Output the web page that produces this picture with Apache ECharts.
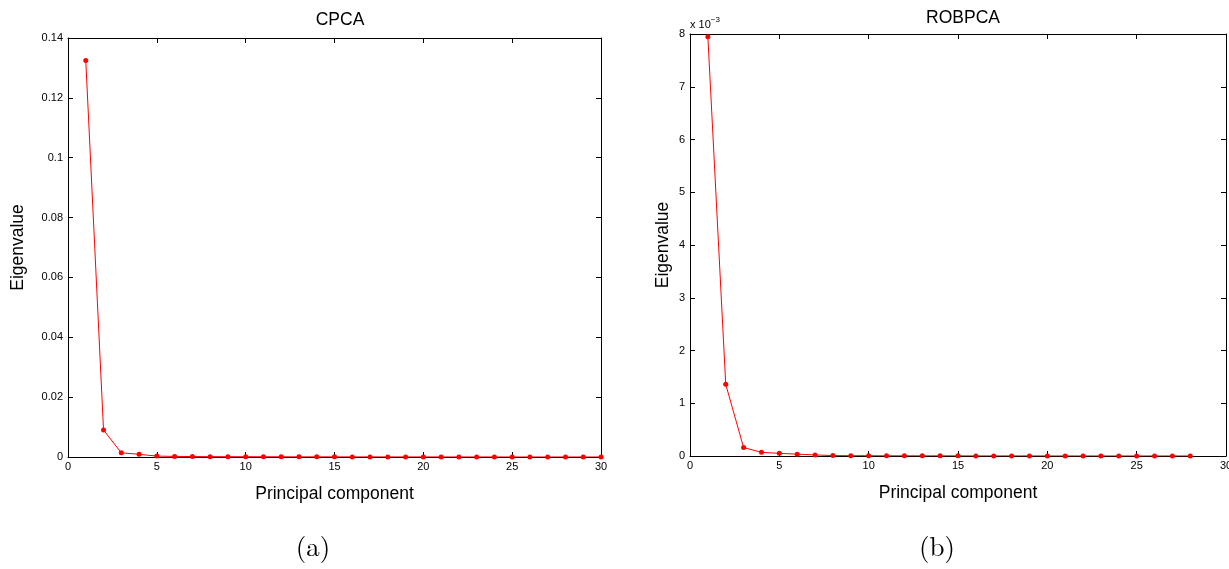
<!DOCTYPE html>
<html>
<head>
<meta charset="utf-8">
<script src="https://cdn.jsdelivr.net/npm/echarts@6/dist/echarts.min.js"></script>
<style>
  html, body { margin: 0; padding: 0; background: #fff; }
  #chart { width: 1229px; height: 569px; }
</style>
</head>
<body>
<div id="chart"></div>
<script>
// Principal component indices
const cpcaComponents = Array.from({ length: 30 }, (_, i) => i + 1);
const robpcaComponents = Array.from({ length: 28 }, (_, i) => i + 1);

// Eigenvalues from classical PCA
const cpcaEigen = [0.1325, 0.0090, 0.0014, 0.0009, 0.0003, 0.0002, 0.00015, 0.00012,
  0.0001, 0.00009, 0.00008, 0.00007, 0.00006, 0.00005, 0.00005, 0.00004, 0.00004,
  0.00003, 0.00003, 0.00003, 0.00002, 0.00002, 0.00002, 0.00002, 0.00001, 0.00001,
  0.00001, 0.00001, 0.00001, 0.00001];

// Eigenvalues from robust PCA (in units of 1e-3)
const robpcaEigenE3 = [7.95, 1.36, 0.16, 0.07, 0.05, 0.035, 0.02, 0.008, 0.006, 0.005,
  0.004, 0.004, 0.003, 0.003, 0.003, 0.002, 0.002, 0.002, 0.002, 0.001, 0.001, 0.001,
  0.001, 0.001, 0.001, 0.001, 0.001, 0.001];

const xTicks = [0, 5, 10, 15, 20, 25, 30];

const font = 'Liberation Sans, Arial, Helvetica, sans-serif';
const serif = 'Latin Modern Roman, DejaVu Serif, Liberation Serif, serif';
const black = '#000';
const red = '#ff0000';

function boxAxis(gridIndex, position, showLabels, extra) {
  return Object.assign({
    type: 'value',
    gridIndex: gridIndex,
    position: position,
    axisLine: { show: true, onZero: false, lineStyle: { color: black, width: 1 } },
    axisTick: { show: true, inside: true, length: 5, lineStyle: { color: black } },
    axisLabel: { show: showLabels, color: black, fontSize: 11, fontFamily: font, margin: 5 },
    splitLine: { show: false }
  }, extra);
}

const nameStyle = { fontSize: 17.5, color: black, fontFamily: font };
const xLabel = {
  show: true, color: black, fontSize: 11, fontFamily: font, margin: 4,
  formatter: v => xTicks.includes(v) ? String(v) : ''
};

const chart = echarts.init(document.getElementById('chart'), null, { renderer: 'canvas' });

chart.setOption({
  animation: false,
  backgroundColor: '#fff',
  title: [
    { text: 'CPCA', left: 335, top: 6, textAlign: 'center',
      textStyle: { fontSize: 17.5, fontWeight: 'normal', color: black, fontFamily: font } },
    { text: 'ROBPCA', left: 958, top: 4, textAlign: 'center',
      textStyle: { fontSize: 17.5, fontWeight: 'normal', color: black, fontFamily: font } }
  ],
  grid: [
    { left: 68, right: 628, top: 38, bottom: 112, outerBoundsMode: 'none', containLabel: false },
    { left: 690, right: 3, top: 34, bottom: 113, outerBoundsMode: 'none', containLabel: false }
  ],
  xAxis: [
    boxAxis(0, 'bottom', true, {
      min: 0, max: 30, interval: 5,
      name: 'Principal component', nameLocation: 'middle', nameGap: 28,
      nameTextStyle: nameStyle, axisLabel: xLabel
    }),
    boxAxis(0, 'top', false, { min: 0, max: 30, interval: 5 }),
    boxAxis(1, 'bottom', true, {
      min: 0, max: 30, interval: 5,
      name: 'Principal component', nameLocation: 'middle', nameGap: 28,
      nameTextStyle: nameStyle, axisLabel: xLabel
    }),
    boxAxis(1, 'top', false, { min: 0, max: 30, interval: 5 })
  ],
  yAxis: [
    boxAxis(0, 'left', true, {
      min: 0, max: 0.14, interval: 0.02,
      name: 'Eigenvalue', nameLocation: 'middle', nameGap: 41,
      nameTextStyle: nameStyle,
      axisLabel: { show: true, color: black, fontSize: 11, fontFamily: font, margin: 5,
        formatter: v => { const r = Math.round(v * 100) / 100; return r === 0 ? '0' : String(r); } }
    }),
    boxAxis(0, 'right', false, { min: 0, max: 0.14, interval: 0.02 }),
    boxAxis(1, 'left', true, {
      min: 0, max: 8, interval: 1,
      name: 'Eigenvalue', nameLocation: 'middle', nameGap: 18,
      nameTextStyle: nameStyle
    }),
    boxAxis(1, 'right', false, { min: 0, max: 8, interval: 1 })
  ],
  series: [
    {
      type: 'line', xAxisIndex: 0, yAxisIndex: 0,
      data: cpcaComponents.map((c, i) => [c, cpcaEigen[i]]),
      symbol: 'circle', symbolSize: 5,
      lineStyle: { color: red, width: 1 },
      itemStyle: { color: red },
      z: 3
    },
    {
      type: 'line', xAxisIndex: 2, yAxisIndex: 2,
      data: robpcaComponents.map((c, i) => [c, robpcaEigenE3[i]]),
      symbol: 'circle', symbolSize: 5,
      lineStyle: { color: red, width: 1 },
      itemStyle: { color: red },
      z: 3
    }
  ],
  graphic: [
    {
      type: 'text', left: 690, top: 16,
      style: {
        text: '{b|x 10}{s|−3}',
        rich: {
          b: { fontSize: 11, fontFamily: font, fill: black, verticalAlign: 'bottom' },
          s: { fontSize: 8, fontFamily: font, fill: black, verticalAlign: 'top', padding: [0, 0, 6, 0] }
        }
      }
    },
    {
      type: 'text', x: 313, y: 548,
      style: { text: '(a)', fontSize: 27, fontFamily: serif, fill: black,
        align: 'center', verticalAlign: 'middle' }
    },
    {
      type: 'text', x: 937, y: 548,
      style: { text: '(b)', fontSize: 27, fontFamily: serif, fill: black,
        align: 'center', verticalAlign: 'middle' }
    }
  ]
});
</script>
</body>
</html>
